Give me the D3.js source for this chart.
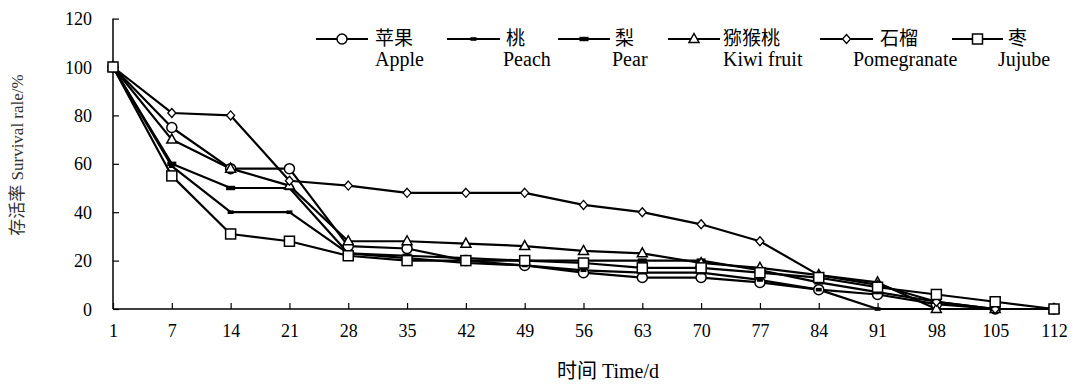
<!DOCTYPE html>
<html>
<head>
<meta charset="utf-8">
<script src="https://cdn.jsdelivr.net/npm/d3@7/dist/d3.min.js"></script>
<style>
  body { margin: 0; background: #fff; }
</style>
</head>
<body>
<svg id="chart" width="1076" height="385"></svg>
<script>
// ---- data ----
const days = ["1","7","14","21","28","35","42","49","56","63","70","77","84","91","98","105","112"];
const yTicks = [0, 20, 40, 60, 80, 100, 120];
const seriesNamesZh = ["苹果", "桃", "梨", "猕猴桃", "石榴", "枣"];
const seriesNamesEn = ["Apple", "Peach", "Pear", "Kiwi fruit", "Pomegranate", "Jujube"];
const apple       = [100, 75, 58, 58, 26, 25, 20, 18, 15, 13, 13, 11, 8, 6, 2, 0, 0];
const peach       = [100, 59, 40, 40, 23, 21, 19, 18, 16, 15, 15, 12, 8, 0, 0, 0, 0];
const pear        = [100, 60, 50, 50, 23, 22, 21, 20, 20, 20, 20, 16, 11, 7, 3, 0, 0];
const kiwi        = [100, 70, 58, 51, 28, 28, 27, 26, 24, 23, 19, 17, 14, 11, 0, 0, 0];
const pomegranate = [100, 81, 80, 53, 51, 48, 48, 48, 43, 40, 35, 28, 14, 10, 3, 0, 0];
const jujube      = [100, 55, 31, 28, 22, 20, 20, 20, 19, 17, 17, 15, 13, 9, 6, 3, 0];
const seriesValues = [apple, peach, pear, kiwi, pomegranate, jujube];
const markerTypes = ["circle", "dashSmall", "dashLarge", "triangle", "diamond", "square"];

// ---- layout ----
const FONT = "'Times New Roman', 'Liberation Serif', 'DejaVu Serif', 'Noto Sans CJK SC', serif";
const svg = d3.select("#chart");
const x = d3.scalePoint().domain(days).range([113, 1054]);
const y = d3.scaleLinear().domain([0, 120]).range([309, 18.6]);

function drawMarker(g, type, cx, cy) {
  if (type === "circle") {
    g.append("circle").attr("cx", cx).attr("cy", cy).attr("r", 5)
      .attr("fill", "#fff").attr("stroke", "#000").attr("stroke-width", 1.5);
  } else if (type === "square") {
    g.append("rect").attr("x", cx - 5).attr("y", cy - 5).attr("width", 10).attr("height", 10)
      .attr("fill", "#fff").attr("stroke", "#000").attr("stroke-width", 1.5);
  } else if (type === "triangle") {
    g.append("path").attr("d", `M${cx},${cy-5.5}L${cx+5},${cy+3.5}L${cx-5},${cy+3.5}Z`)
      .attr("fill", "#fff").attr("stroke", "#000").attr("stroke-width", 1.5);
  } else if (type === "diamond") {
    g.append("path").attr("d", `M${cx},${cy-4.5}L${cx+4},${cy}L${cx},${cy+4.5}L${cx-4},${cy}Z`)
      .attr("fill", "#fff").attr("stroke", "#000").attr("stroke-width", 1.3);
  } else if (type === "dashSmall") {
    g.append("rect").attr("x", cx - 3).attr("y", cy - 1.8).attr("width", 6).attr("height", 3.6)
      .attr("fill", "#000");
  } else if (type === "dashLarge") {
    g.append("rect").attr("x", cx - 4.5).attr("y", cy - 2.2).attr("width", 9).attr("height", 4.4)
      .attr("fill", "#000");
  }
}

// axes
const yAxis = d3.axisLeft(y).tickValues(yTicks).tickSize(0).tickPadding(0);
const gy = svg.append("g").attr("transform", "translate(113,0)").call(yAxis).attr("font-family", FONT);
gy.select(".domain").remove();
gy.selectAll("text").attr("x", -21).attr("font-size", 18).attr("dy", "0.34em").attr("fill", "#000");
gy.selectAll(".tick").append("line").attr("x1", 0).attr("x2", 6).attr("stroke", "#000").attr("stroke-width", 1.2);
svg.append("line").attr("x1", 113).attr("x2", 113).attr("y1", y(120)).attr("y2", y(0))
  .attr("stroke", "#000").attr("stroke-width", 1.5);

const xAxis = d3.axisBottom(x).tickSize(0).tickPadding(0);
const gx = svg.append("g").attr("transform", `translate(0,${y(0)})`).call(xAxis).attr("font-family", FONT);
gx.select(".domain").remove();
gx.selectAll("text").attr("y", 15).attr("dy", "0.71em").attr("font-size", 18).attr("fill", "#000");
gx.selectAll(".tick").append("line").attr("y1", 0).attr("y2", -6).attr("stroke", "#000").attr("stroke-width", 1.2);
svg.append("line").attr("x1", 113).attr("x2", 1054).attr("y1", y(0)).attr("y2", y(0))
  .attr("stroke", "#000").attr("stroke-width", 1.5);

// axis titles
svg.append("text").attr("x", 608).attr("y", 378).attr("text-anchor", "middle")
  .attr("font-family", FONT).attr("font-size", 20).text("时间 Time/d");
svg.append("text").attr("transform", "translate(23,155) rotate(-90)").attr("text-anchor", "middle")
  .attr("font-family", FONT).attr("font-size", 17).attr("fill", "#333").text("存活率 Survival rale/%");

// series lines
const line = d3.line().x((d, i) => x(days[i])).y(d => y(d));
const plot = svg.append("g");
seriesValues.forEach((vals, s) => {
  plot.append("path").datum(vals).attr("d", line).attr("fill", "none")
    .attr("stroke", "#000").attr("stroke-width", 2.2).attr("stroke-linejoin", "round");
});
seriesValues.forEach((vals, s) => {
  const g = plot.append("g");
  vals.forEach((v, i) => drawMarker(g, markerTypes[s], x(days[i]), y(v)));
});

// legend
const legendLayout = [
  { x0: 316, x1: 368, zh: 375, en: 375 },
  { x0: 447, x1: 500, zh: 506, en: 503 },
  { x0: 558, x1: 610, zh: 615, en: 612 },
  { x0: 668, x1: 720, zh: 723, en: 723 },
  { x0: 820, x1: 873, zh: 880, en: 853 },
  { x0: 952, x1: 1003, zh: 1008, en: 998 }
];
const legend = svg.append("g").attr("font-family", FONT);
legendLayout.forEach((L, s) => {
  legend.append("line").attr("x1", L.x0).attr("x2", L.x1).attr("y1", 39).attr("y2", 39)
    .attr("stroke", "#000").attr("stroke-width", 2.2);
  drawMarker(legend, markerTypes[s], (L.x0 + L.x1) / 2, 39);
  legend.append("text").attr("x", L.zh).attr("y", 45).attr("font-size", 19).text(seriesNamesZh[s]);
  legend.append("text").attr("x", L.en).attr("y", 66).attr("font-size", 20).text(seriesNamesEn[s]);
});
</script>
</body>
</html>
